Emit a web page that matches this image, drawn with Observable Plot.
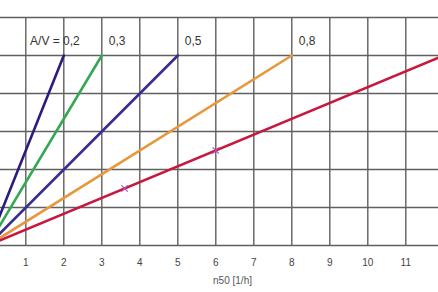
<!DOCTYPE html>
<html>
<head>
<meta charset="utf-8">
<script src="https://cdn.jsdelivr.net/npm/d3@7"></script>
<script src="https://cdn.jsdelivr.net/npm/@observablehq/plot@0.6"></script>
<style>
  html, body { margin: 0; padding: 0; background: white; overflow: hidden; }
  #chart svg { display: block; }
</style>
</head>
<body>
<div id="chart"></div>
<script>
// A/V ratios and their lines (from origin to end point)
const avRatio = [0.2, 0.3, 0.5, 0.8, 1.2];
const avLabel = ["A/V = 0,2", "0,3", "0,5", "0,8", "1,2"];
const lineColor = ["#2b1c7e", "#34a853", "#3b2d8f", "#e8973a", "#c8173f"];
const endN50 = [2, 3, 5, 8, 12];
const endValue = [5, 5, 5, 5, 5];

// small cross markers on the A/V = 1,2 line
const markerN50 = [3.6, 6];
const markerValue = [1.5, 2.5];

const xTicks = [1, 2, 3, 4, 5, 6, 7, 8, 9, 10, 11];
const xGrid = [0, 1, 2, 3, 4, 5, 6, 7, 8, 9, 10, 11, 12];
const yGrid = [0, 1, 2, 3, 4, 5, 6];

const segments = avRatio.map((a, i) => ({
  av: a, label: avLabel[i], color: lineColor[i],
  x1: 0, y1: 0, x2: endN50[i], y2: endValue[i]
}));
const markers = markerN50.map((x, i) => ({x, y: markerValue[i]}));
// the "1,2" label lies beyond the visible crop, so only the first four are drawn
const visibleLabels = segments.slice(0, 4);

const chart = Plot.plot({
  width: 438,
  height: 292,
  marginTop: 17,
  marginBottom: 47,
  marginLeft: 0,
  marginRight: 0,
  style: {fontFamily: "Liberation Sans, Arial, sans-serif", background: "white"},
  x: {domain: [0, 12], range: [-12.7, 443.3]},
  y: {domain: [0, 6], axis: null},
  marks: [
    Plot.gridX(xGrid, {stroke: "#606060", strokeOpacity: 1, strokeWidth: 1.4}),
    Plot.gridY(yGrid, {stroke: "#606060", strokeOpacity: 1, strokeWidth: 1.4}),
    Plot.link(segments, {x1: "x1", y1: "y1", x2: "x2", y2: "y2", stroke: d => d.color, strokeWidth: 2.6, strokeLinecap: "round"}),
    Plot.dot(markers, {x: "x", y: "y", symbol: "times", r: 3, stroke: "#b050b8", strokeWidth: 1.2}),
    Plot.text(visibleLabels.slice(0, 1), {x: "x2", y: "y2", text: "label", textAnchor: "end", dx: 16, dy: -14, fontSize: 12, fill: "#333"}),
    Plot.text(visibleLabels.slice(1), {x: "x2", y: "y2", text: "label", textAnchor: "start", dx: 7, dy: -14, fontSize: 12, fill: "#333"}),
    Plot.axisX({ticks: xTicks, tickSize: 0, tickPadding: 13, fontSize: 10, label: null, fill: "#444"}),
    Plot.text(["n50 [1/h]"], {frameAnchor: "bottom", dx: 13, dy: 35, lineAnchor: "middle", fontSize: 10, fill: "#555"})
  ]
});
document.getElementById("chart").appendChild(chart);
</script>
</body>
</html>
